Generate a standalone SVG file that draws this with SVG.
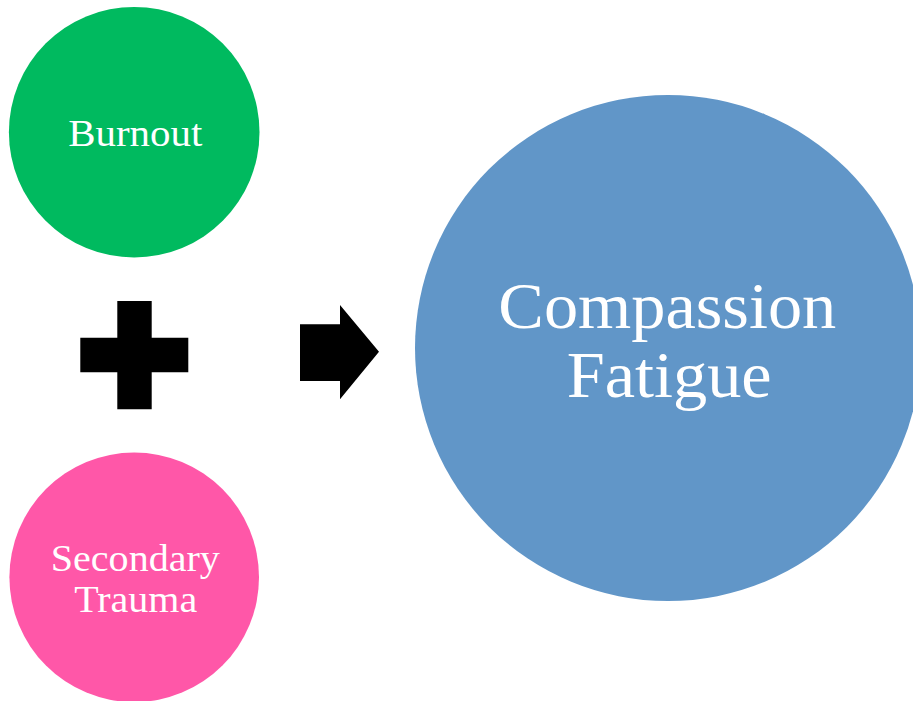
<svg xmlns="http://www.w3.org/2000/svg" width="913" height="701" viewBox="0 0 913 701">
  <style>
    .lbl { font-family: "Liberation Serif", "Times New Roman", serif; fill: #ffffff; text-anchor: middle; }
    .sm { font-size: 38px; }
    .lg { font-size: 66px; }
    .sym { fill: #000000; }
  </style>
  <rect x="0" y="0" width="913" height="701" fill="#ffffff"/>
  <g id="burnout">
    <circle cx="134.2" cy="132.2" r="125.3" fill="#00BA5F"/>
    <text class="lbl sm" x="135.3" y="145.7" textLength="134" lengthAdjust="spacingAndGlyphs">Burnout</text>
  </g>
  <g id="secondary-trauma">
    <circle cx="134.2" cy="577.3" r="124.8" fill="#FF57A8"/>
    <text class="lbl sm" x="135.3" y="571" textLength="169" lengthAdjust="spacingAndGlyphs">Secondary</text>
    <text class="lbl sm" x="135.7" y="612.3" textLength="123" lengthAdjust="spacingAndGlyphs">Trauma</text>
  </g>
  <g id="compassion-fatigue">
    <circle cx="668" cy="348" r="253" fill="#6196C8"/>
    <text class="lbl lg" x="667.3" y="328" textLength="338" lengthAdjust="spacingAndGlyphs">Compassion</text>
    <text class="lbl lg" x="669.2" y="396.7" textLength="205" lengthAdjust="spacingAndGlyphs">Fatigue</text>
  </g>
  <g id="connectors">
    <path id="plus" class="sym" d="M117.3,301 H151.7 V337.7 H188.3 V372.3 H151.7 V409.3 H117.3 V372.3 H80.3 V337.7 H117.3 Z"/>
    <path id="arrow" class="sym" d="M300,324.3 H340 V305 L379,351.7 L340,399.3 V381 H300 Z"/>
  </g>
</svg>
